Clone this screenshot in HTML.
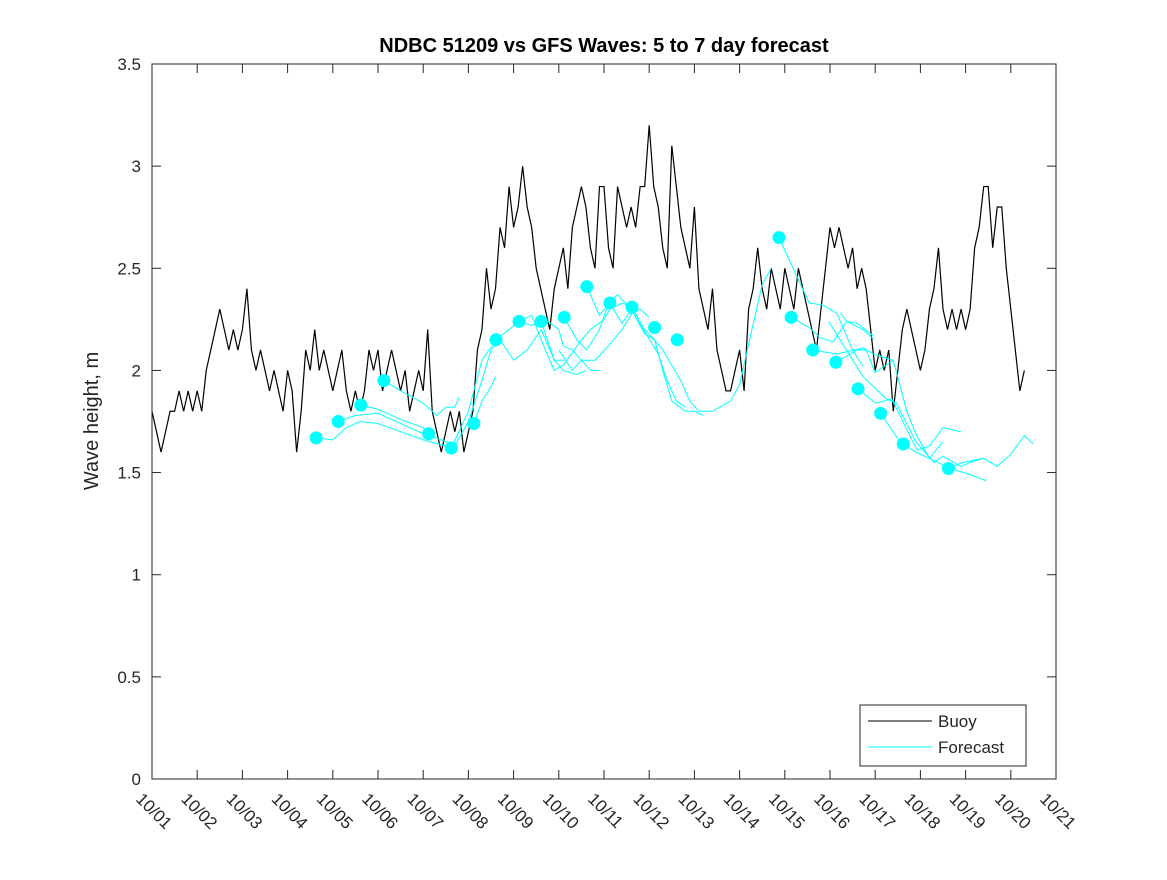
<!DOCTYPE html>
<html><head><meta charset="utf-8"><style>
body{margin:0;background:#fff}
svg text{font-family:"Liberation Sans",sans-serif;fill:#262626}
</style></head><body>
<svg id="chart" width="1167" height="875" xmlns="http://www.w3.org/2000/svg">
<rect width="1167" height="875" fill="#fff"/>
<text x="604" y="52" text-anchor="middle" font-size="20" font-weight="bold" style="fill:#000">NDBC 51209 vs GFS Waves: 5 to 7 day forecast</text>
<text transform="translate(98,421) rotate(-90)" text-anchor="middle" font-size="20">Wave height, m</text>
<g id="axes"></g>
<g id="series"></g>
<rect x="152" y="64" width="904" height="715" fill="none" stroke="#262626" stroke-width="1"/>
<g>
<rect x="860" y="705" width="166" height="61" fill="#fff" stroke="#262626"/>
<line x1="868" y1="721" x2="932" y2="721" stroke="#000"/>
<text x="938" y="727" font-size="17">Buoy</text>
<line x1="868" y1="747" x2="932" y2="747" stroke="cyan"/>
<text x="938" y="753" font-size="17">Forecast</text>
</g>
</svg>
<script>
const yTicks=[0,0.5,1,1.5,2,2.5,3,3.5];
const xLabels=["10/01","10/02","10/03","10/04","10/05","10/06","10/07","10/08","10/09","10/10","10/11","10/12","10/13","10/14","10/15","10/16","10/17","10/18","10/19","10/20","10/21"];
const buoyStep=0.1;
const buoy=[1.8,1.7,1.6,1.7,1.8,1.8,1.9,1.8,1.9,1.8,
1.9,1.8,2.0,2.1,2.2,2.3,2.2,2.1,2.2,2.1,
2.2,2.4,2.1,2.0,2.1,2.0,1.9,2.0,1.9,1.8,
2.0,1.9,1.6,1.8,2.1,2.0,2.2,2.0,2.1,2.0,
1.9,2.0,2.1,1.9,1.8,1.9,1.8,1.9,2.1,2.0,
2.1,1.9,2.0,2.1,2.0,1.9,2.0,1.8,1.9,2.0,
1.9,2.2,1.8,1.7,1.6,1.7,1.8,1.7,1.8,1.6,
1.7,1.8,2.1,2.2,2.5,2.3,2.4,2.7,2.6,2.9,
2.7,2.8,3.0,2.8,2.7,2.5,2.4,2.3,2.2,2.4,
2.5,2.6,2.4,2.7,2.8,2.9,2.8,2.6,2.5,2.9,
2.9,2.6,2.5,2.9,2.8,2.7,2.8,2.7,2.9,2.9,
3.2,2.9,2.8,2.6,2.5,3.1,2.9,2.7,2.6,2.5,
2.8,2.4,2.3,2.2,2.4,2.1,2.0,1.9,1.9,2.0,
2.1,1.9,2.3,2.4,2.6,2.4,2.3,2.5,2.4,2.3,
2.5,2.4,2.3,2.5,2.4,2.3,2.2,2.1,2.3,2.5,
2.7,2.6,2.7,2.6,2.5,2.6,2.4,2.5,2.4,2.2,
2.0,2.1,2.0,2.1,1.8,2.0,2.2,2.3,2.2,2.1,
2.0,2.1,2.3,2.4,2.6,2.3,2.2,2.3,2.2,2.3,
2.2,2.3,2.6,2.7,2.9,2.9,2.6,2.8,2.8,2.5,
2.3,2.1,1.9,2.0];
// forecast lines: days and values
const fcDays=[
[3.63,4.0,4.3,4.6,5.0,5.5,6.0,6.5,6.62],
[4.12,4.5,5.0,5.5,6.0,6.4,6.62],
[4.62,5.0,5.5,6.0,6.12],
[5.13,5.5,6.0,6.3,6.5,6.7,6.8],
[6.62,7.0,7.3,7.61,7.9,8.12,8.4,8.61,8.9,9.1,9.4,9.6],
[6.62,7.0,7.3,7.5,7.7,8.0,8.3,8.61,8.9,9.12],
[7.12,7.3,7.5,7.6],
[8.12,8.4,8.7,8.9,9.12,9.5,9.7,10.0,10.13,10.4,10.62,10.9,11.12,11.3,11.5,11.8,12.0,12.2],
[9.12,9.4,9.62,9.9,10.1,10.3,10.6,10.9,11.12,11.3,11.7,11.9,12.1,12.4,12.8,13.0,13.2,13.5,13.7],
[9.62,9.9,10.13,10.4,10.6,10.9,11.2,11.4,11.6,11.8],
[9.0,9.3,9.5,9.8,10.1,10.4,10.62,10.8,11.0],
[8.7,9.0,9.1,9.3,9.5,9.7,9.9],
[13.87,14.54,14.85,15.15,15.5,15.73],
[14.14,14.54,14.78,15.07,15.37,15.6,15.96],
[14.62,15.15,15.73,15.96,16.4,16.7,16.9,17.2,17.5],
[14.97,15.73,16.25,16.47,16.9,17.3,17.5,17.9,18.1,18.4,18.7,19.0,19.3,19.5],
[15.13,15.6,15.8,16.0,16.4],
[15.62,16.0,16.37,16.7,16.93,17.2,17.5,17.9],
[16.12,16.55,16.9,17.2,17.66,18.1,18.46],
[17.62,17.94,18.4],
[15.23,15.37,15.73,15.98]];
const fcVals=[
[1.67,1.66,1.72,1.75,1.74,1.70,1.66,1.63,1.62],
[1.75,1.78,1.79,1.74,1.69,1.66,1.64],
[1.83,1.81,1.76,1.72,1.69],
[1.95,1.90,1.84,1.78,1.82,1.82,1.87],
[1.62,1.80,2.05,2.15,2.20,2.24,2.22,2.24,2.05,2.00,1.98,2.00],
[1.60,1.75,1.95,2.10,2.15,2.05,2.10,2.20,2.05,2.05],
[1.74,1.85,1.92,1.97],
[2.24,2.27,2.10,2.00,2.03,2.15,2.20,2.25,2.30,2.33,2.31,2.20,2.15,2.00,1.85,1.80,1.80,1.78],
[2.26,2.15,2.10,2.20,2.33,2.37,2.30,2.18,2.15,2.10,1.95,1.85,1.80,1.80,1.85,1.93,2.13,2.42,2.50],
[2.41,2.27,2.33,2.23,2.30,2.19,2.08,1.95,1.85,1.82],
[2.10,2.00,2.05,2.05,2.12,2.20,2.28,2.30,2.26],
[2.25,2.20,2.12,2.10,2.05,2.00,2.00],
[2.65,2.33,2.32,2.28,2.10,2.02],
[2.26,2.21,2.16,2.14,2.24,2.23,2.17],
[2.10,2.08,2.11,2.08,2.05,1.80,1.69,1.57,1.65],
[2.24,1.97,1.86,1.84,1.65,1.55,1.58,1.53,1.55,1.57,1.53,1.59,1.68,1.64],
[2.04,2.10,2.10,1.99,2.05],
[1.91,1.84,1.86,1.71,1.61,1.63,1.72,1.70],
[1.79,1.65,1.60,1.57,1.52,1.49,1.46],
[1.52,1.55,1.57],
[2.28,2.24,2.20,2.15]];
const dotDays=[3.63,4.12,4.62,5.13,6.12,6.62,7.12,7.61,8.12,8.61,9.12,9.62,10.13,10.62,11.12,11.62,13.87,14.14,14.62,15.13,15.62,16.12,16.62,17.62];
const dotVals=[1.67,1.75,1.83,1.95,1.69,1.62,1.74,2.15,2.24,2.24,2.26,2.41,2.33,2.31,2.21,2.15,2.65,2.26,2.10,2.04,1.91,1.79,1.64,1.52];

const NS="http://www.w3.org/2000/svg";
const X=d=>152+d*45.2, Y=v=>779-v*(715/3.5);
function mk(t,a,p){const e=document.createElementNS(NS,t);for(const k in a)e.setAttribute(k,a[k]);p.appendChild(e);return e;}
const ax=document.getElementById('axes'), sr=document.getElementById('series');
yTicks.forEach(v=>{
  const g=mk('g',{},ax);
  
  
  mk('line',{x1:152,x2:161,y1:Y(v),y2:Y(v),stroke:'#262626'},g);
  mk('line',{x1:1047,x2:1056,y1:Y(v),y2:Y(v),stroke:'#262626'},g);
  const t=mk('text',{x:141,y:Y(v)+6,'text-anchor':'end','font-size':17},g);t.textContent=String(v);
});
xLabels.forEach((l,i)=>{
  const g=mk('g',{},ax);
  
  
  mk('line',{x1:X(i),x2:X(i),y1:779,y2:770,stroke:'#262626'},g);
  mk('line',{x1:X(i),x2:X(i),y1:64,y2:73,stroke:'#262626'},g);
  const t=mk('text',{x:0,y:0,'font-size':17,transform:`translate(${X(i)-17},${800}) rotate(45)`},g);t.textContent=l;
});
let bp='';buoy.forEach((v,i)=>{bp+=X(i*buoyStep)+','+Y(v)+' ';});
const b=mk('polyline',{points:bp,fill:'none',stroke:'#000','stroke-width':1.2,'stroke-linejoin':'miter'},sr);


fcDays.forEach((ds,k)=>{
  const pts=ds.map((d,i)=>X(d)+','+Y(fcVals[k][i])).join(' ');
  const p=mk('polyline',{points:pts,fill:'none',stroke:'cyan','stroke-width':1},sr);
  
  
});
dotDays.forEach((d,i)=>{
  const c=mk('circle',{cx:X(d),cy:Y(dotVals[i]),r:6.5,fill:'cyan'},sr);
  
  
});
</script>
</body></html>
